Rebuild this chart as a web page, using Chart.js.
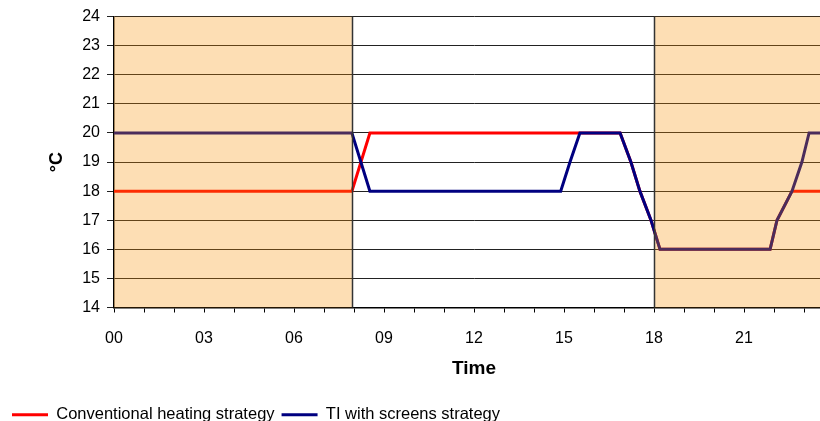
<!DOCTYPE html>
<html lang="en">
<head>
<meta charset="UTF-8" />
<title>Heating strategies</title>
<script src="https://cdn.jsdelivr.net/npm/chart.js"></script>
<style>
  body { margin: 0; background: #fff; overflow: hidden; }
  #wrap { width: 850px; height: 433px; }
</style>
</head>
<body>
<div id="wrap"><canvas id="tempChart" width="850" height="433"></canvas></div>
<script>
  // hours of the day and set point temperatures (degC)
  const convHours = [0, 7.93, 8.53, 16.87, 17.23, 17.53, 17.9, 18.2, 21.87, 22.1, 22.6, 24];
  const convTemps = [18, 18, 20, 20, 19, 18, 17, 16, 16, 17, 18, 18];
  const tiHours = [0, 7.93, 8.53, 14.89, 15.03, 15.2, 15.53, 16.87, 17.23, 17.53, 17.9, 18.2, 21.87, 22.1, 22.6, 22.93, 23.17, 24];
  const tiTemps = [20, 20, 18, 18, 18.45, 19, 20, 20, 19, 18, 17, 16, 16, 17, 18, 19, 20, 20];
  const nightPeriods = [[0, 7.93], [18, 24]];
  const xTickLabels = ['00', '03', '06', '09', '12', '15', '18', '21'];

  const toPoints = (xs, ys) => xs.map((h, i) => ({ x: h, y: ys[i] }));

  Chart.defaults.font.family = 'Arial, "Liberation Sans", sans-serif';
  Chart.defaults.color = '#000';

  // shaded night periods, drawn over the lines like the original
  const nightShade = {
    id: 'nightShade',
    afterDatasetsDraw(chart) {
      const { ctx, chartArea: a, scales: { x } } = chart;
      ctx.save();
      nightPeriods.forEach(([s, e]) => {
        const x0 = x.getPixelForValue(s);
        const x1 = x.getPixelForValue(e);
        ctx.fillStyle = 'rgba(250,147,7,0.3)';
        ctx.fillRect(x0, a.top, x1 - x0, a.bottom - a.top);
        ctx.strokeStyle = '#333';
        ctx.lineWidth = 1.5;
        [s, e].forEach(v => {
          if (v > x.min && v < x.max) {
            const px = Math.round(x.getPixelForValue(v)) + 0.5;
            ctx.beginPath();
            ctx.moveTo(px, a.top);
            ctx.lineTo(px, a.bottom);
            ctx.stroke();
          }
        });
      });
      ctx.restore();
    }
  };

  new Chart(document.getElementById('tempChart'), {
    type: 'line',
    data: {
      datasets: [{
        label: 'Conventional heating strategy',
        data: toPoints(convHours, convTemps),
        borderColor: '#ff0000',
        backgroundColor: '#ff0000',
        borderWidth: 3,
        pointRadius: 0,
        tension: 0,
        order: 1
      }, {
        label: 'TI with screens strategy',
        data: toPoints(tiHours, tiTemps),
        borderColor: '#000080',
        backgroundColor: '#000080',
        borderWidth: 3,
        pointRadius: 0,
        tension: 0,
        order: 0
      }]
    },
    options: {
      responsive: false,
      animation: false,
      layout: { padding: { top: 11, right: 16, left: 5, bottom: 0 } },
      plugins: {
        tooltip: { enabled: false },
        legend: {
          position: 'bottom',
          align: 'start',
          labels: {
            usePointStyle: true,
            pointStyle: 'line',
            pointStyleWidth: 36,
            boxHeight: 16,
            padding: 7,
            font: { size: 16.5 },
            color: '#000',
            sort: (a, b) => a.datasetIndex - b.datasetIndex
          }
        }
      },
      scales: {
        x: {
          type: 'linear',
          min: 0,
          max: 24,
          afterFit: s => { s.height = 92; },
          ticks: {
            stepSize: 1,
            autoSkip: false,
            maxRotation: 0,
            padding: 16,
            font: { size: 16 },
            callback: v => (v % 3 === 0 && v < 24 ? xTickLabels[v / 3] : '')
          },
          grid: { drawOnChartArea: false, tickLength: 5, color: '#000' },
          border: { color: '#000', width: 1.5 },
          title: {
            display: true,
            text: 'Time',
            font: { size: 19, weight: 'bold' },
            padding: { top: 0, bottom: 19 }
          }
        },
        y: {
          min: 14,
          max: 24,
          afterFit: s => { s.width = 109; },
          ticks: { stepSize: 1, padding: 7, font: { size: 16 } },
          grid: { color: '#222', lineWidth: 1, tickLength: 7 },
          border: { color: '#000', width: 1.5 },
          title: {
            display: true,
            text: '°C',
            font: { size: 18, weight: 'bold' },
            padding: { top: 41, bottom: 0 }
          }
        }
      }
    },
    plugins: [nightShade]
  });
</script>
</body>
</html>
